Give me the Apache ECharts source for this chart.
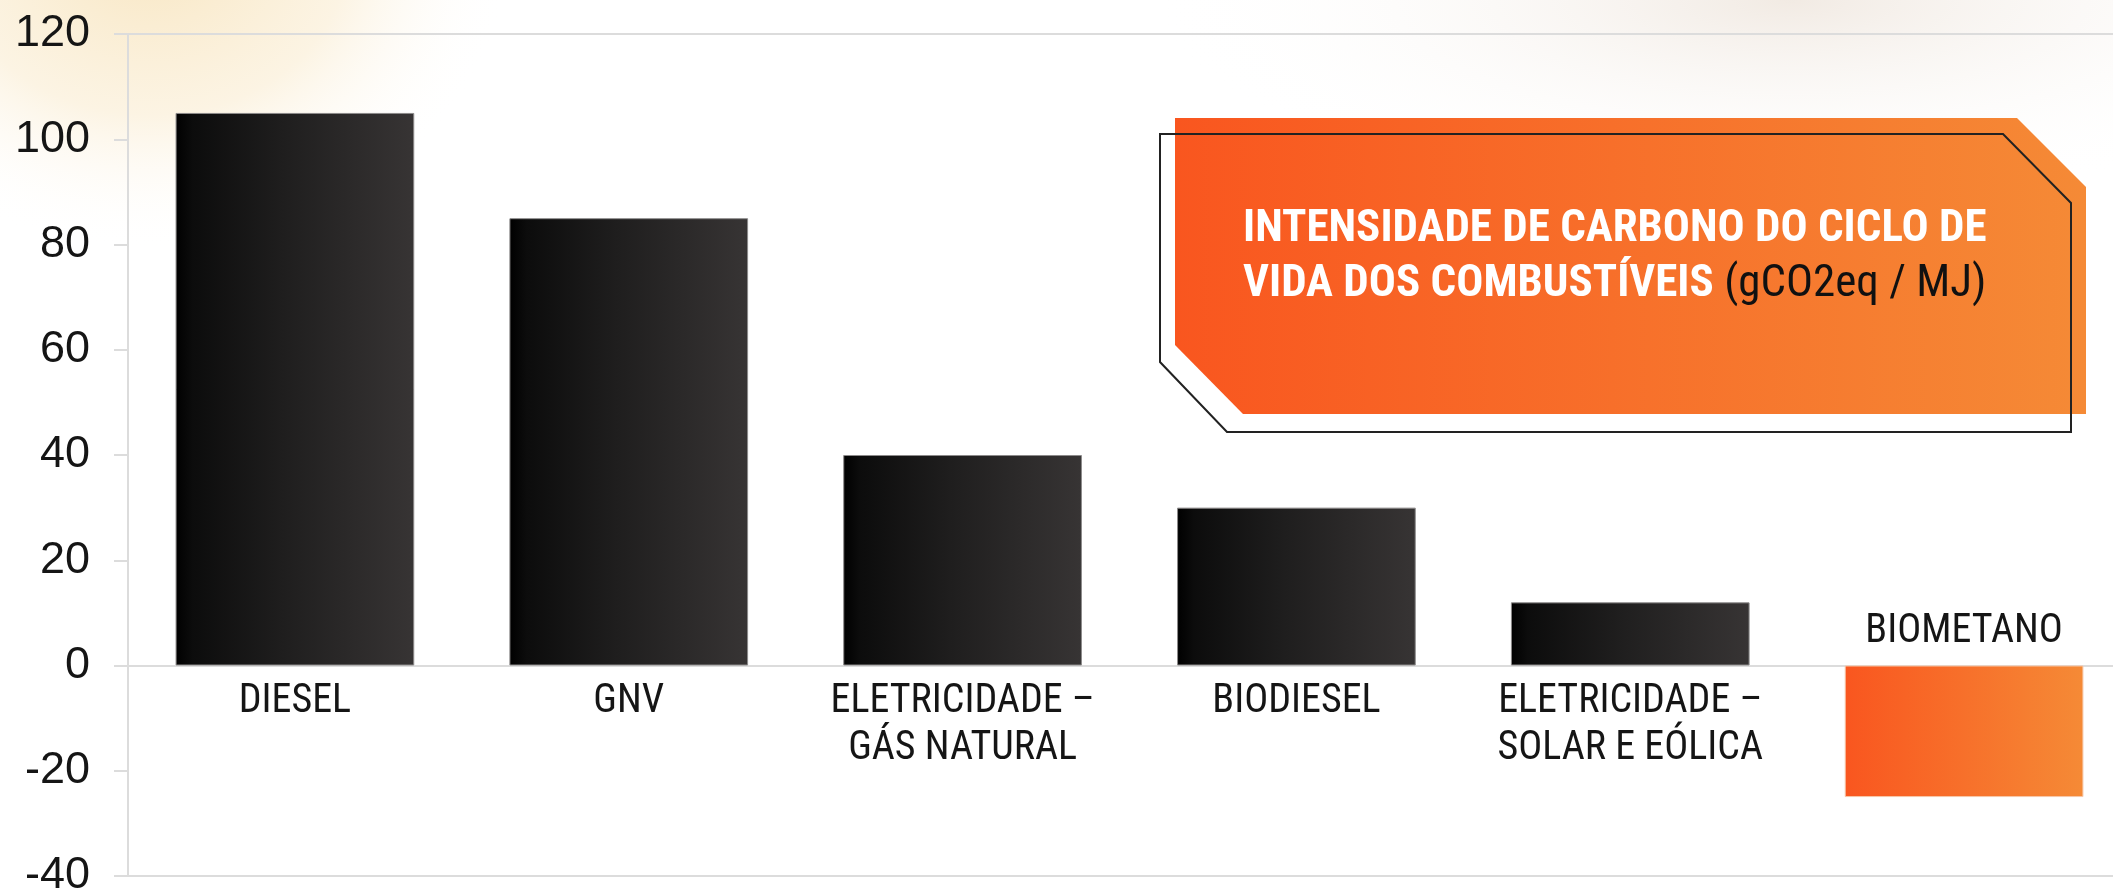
<!DOCTYPE html>
<html>
<head>
<meta charset="utf-8">
<script src="https://cdn.jsdelivr.net/npm/echarts@6/dist/echarts.min.js"></script>
<style>
  html, body { margin: 0; padding: 0; background: #fff; }
  #chart { width: 2113px; height: 893px; }
</style>
</head>
<body>
<div id="chart"></div>
<script>
// categorias e valores (gCO2eq / MJ)
const categories = ['DIESEL', 'GNV', 'ELETRICIDADE –\nGÁS NATURAL', 'BIODIESEL', 'ELETRICIDADE –\nSOLAR E EÓLICA', 'BIOMETANO'];
const values = [105, 85, 40, 30, 12, -25];
const yMin = -40;
const yMax = 120;
const yStep = 20;

const narrow = '"Roboto Condensed", "Open Sans Condensed", sans-serif';

const darkFill = {
    type: 'linear', x: 0, y: 0, x2: 1, y2: 0,
    colorStops: [
        { offset: 0, color: '#000000' },
        { offset: 0.07, color: '#0c0c0c' },
        { offset: 0.45, color: '#1f1e1e' },
        { offset: 1, color: '#373434' }
    ]
};
const orangeFill = {
    type: 'linear', x: 0, y: 0, x2: 1, y2: 0,
    colorStops: [
        { offset: 0, color: '#f9561f' },
        { offset: 1, color: '#f58a36' }
    ]
};

const gridTop = 34;
const gridBottom = 17;
const gridH = 893 - gridTop - gridBottom;
// eixo x na linha do zero
const zeroOffset = gridH * (0 - yMin) / (yMax - yMin);

const chart = echarts.init(document.getElementById('chart'));

chart.setOption({
    backgroundColor: '#ffffff',
    animation: false,
    grid: {
        left: 128,
        top: gridTop,
        bottom: gridBottom,
        width: 2003,
        outerBoundsMode: 'none',
        containLabel: false,
        show: true,
        borderColor: '#dcdcdc',
        borderWidth: 2,
        backgroundColor: 'transparent'
    },
    xAxis: {
        type: 'category',
        data: categories,
        offset: -zeroOffset,
        axisLine: { onZero: false, lineStyle: { color: '#dcdcdc', width: 2 } },
        axisTick: { show: false },
        axisLabel: {
            interval: 0,
            hideOverlap: false,
            margin: 13,
            fontFamily: narrow,
            fontSize: 40,
            lineHeight: 47,
            color: '#151515',
            formatter: (val, idx) => (values[idx] < 0 ? '' : val)
        }
    },
    yAxis: {
        type: 'value',
        min: yMin,
        max: yMax,
        interval: yStep,
        axisLine: { show: true, lineStyle: { color: '#dcdcdc', width: 2 } },
        axisTick: { show: true, length: 14, lineStyle: { color: '#dcdcdc', width: 2 } },
        splitLine: { show: false },
        axisLabel: {
            margin: 38,
            fontFamily: '"Liberation Sans", Arial, sans-serif',
            fontSize: 45,
            color: '#151515'
        }
    },
    series: [{
        type: 'bar',
        barWidth: '71.5%',
        z: 3,
        data: values.map((v) => ({
            value: v,
            itemStyle: {
                color: v < 0 ? orangeFill : darkFill,
                borderColor: v < 0 ? '#f7c7a8' : '#8c8a8a',
                borderWidth: 1
            },
            label: v < 0 ? {
                show: true,
                position: 'top',
                distance: 14,
                formatter: '{b}',
                fontFamily: narrow,
                fontSize: 40,
                color: '#151515'
            } : { show: false }
        }))
    }],
    graphic: [
        {
            type: 'rect', z: -10, silent: true,
            x: -210, y: -350, scaleX: 1.2,
            shape: { x: 0, y: 0, width: 600, height: 600 },
            style: {
                fill: {
                    type: 'radial', x: 0.5, y: 0.5, r: 0.5,
                    colorStops: [
                        { offset: 0, color: 'rgba(248,230,194,1)' },
                        { offset: 0.55, color: 'rgba(251,240,218,0.75)' },
                        { offset: 1, color: 'rgba(255,255,255,0)' }
                    ]
                }
            }
        },
        {
            type: 'rect', z: -10, silent: true,
            x: 1150, y: -200, scaleX: 3.2,
            shape: { x: 0, y: 0, width: 400, height: 400 },
            style: {
                fill: {
                    type: 'radial', x: 0.5, y: 0.5, r: 0.5,
                    colorStops: [
                        { offset: 0, color: 'rgba(240,232,224,0.9)' },
                        { offset: 1, color: 'rgba(255,255,255,0)' }
                    ]
                }
            }
        },
        {
            type: 'polygon', z: 10, silent: true,
            shape: { points: [[1175, 118], [2017, 118], [2086, 187], [2086, 414], [1243, 414], [1175, 345]] },
            style: { fill: orangeFill }
        },
        {
            type: 'polygon', z: 11, silent: true,
            shape: { points: [[1160, 134], [2003, 134], [2071, 203], [2071, 432], [1227, 432], [1160, 362]] },
            style: { fill: null, stroke: '#222222', lineWidth: 2 }
        },
        {
            type: 'text', z: 12, silent: true,
            x: 1243, y: 202,
            style: {
                text: '{w|INTENSIDADE DE CARBONO DO CICLO DE}\n{w|VIDA DOS COMBUSTÍVEIS }{k|(gCO2eq / MJ)}',
                font: 'bold 45px ' + narrow,
                lineHeight: 55,
                rich: {
                    w: { fill: '#ffffff', fontWeight: 'bold', fontSize: 45, fontFamily: narrow, lineHeight: 55 },
                    k: { fill: '#111111', fontWeight: 'normal', fontSize: 45, fontFamily: narrow, lineHeight: 55 }
                }
            }
        }
    ]
});
</script>
</body>
</html>
